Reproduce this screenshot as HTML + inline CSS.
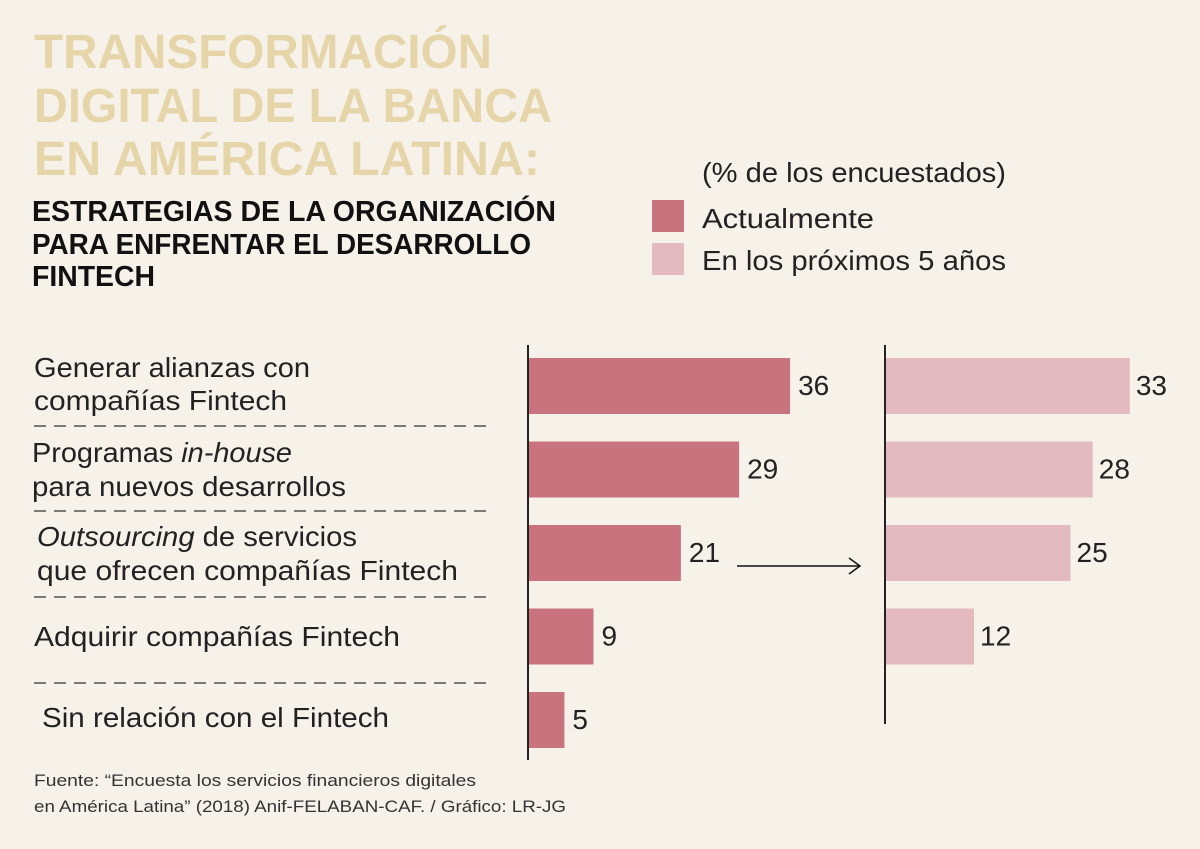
<!DOCTYPE html>
<html><head><meta charset="utf-8"><style>
html,body{margin:0;padding:0;background:#f6f2ea;}
svg{display:block;font-family:"Liberation Sans",sans-serif;}
</style></head><body>
<svg id="chart" width="1200" height="849" viewBox="0 0 1200 849">
<rect width="1200" height="849" fill="#f6f2ea"/>
<g fill="#e6d5a9" font-weight="bold" font-size="48">
<text x="34" y="68" textLength="458" lengthAdjust="spacingAndGlyphs">TRANSFORMACIÓN</text>
<text x="34" y="122" textLength="518" lengthAdjust="spacingAndGlyphs">DIGITAL DE LA BANCA</text>
<text x="34" y="175" textLength="506" lengthAdjust="spacingAndGlyphs">EN AMÉRICA LATINA:</text>
</g>
<g fill="#111" font-weight="bold" font-size="29">
<text x="32" y="221" textLength="524" lengthAdjust="spacingAndGlyphs">ESTRATEGIAS DE LA ORGANIZACIÓN</text>
<text x="32" y="254" textLength="499" lengthAdjust="spacingAndGlyphs">PARA ENFRENTAR EL DESARROLLO</text>
<text x="32" y="286" textLength="123" lengthAdjust="spacingAndGlyphs">FINTECH</text>
</g>
<g font-size="28" fill="#222">
<text x="702" y="182" textLength="304" lengthAdjust="spacingAndGlyphs">(% de los encuestados)</text>
<rect x="652" y="200" width="32" height="32" fill="#c8737d"/>
<text x="702" y="228" textLength="172" lengthAdjust="spacingAndGlyphs">Actualmente</text>
<rect x="652" y="243" width="32" height="32" fill="#e3bac0"/>
<text x="702" y="270" textLength="304" lengthAdjust="spacingAndGlyphs">En los próximos 5 años</text>
</g>
<g font-size="28" fill="#222">
<text x="34" y="377" textLength="276" lengthAdjust="spacingAndGlyphs">Generar alianzas con</text>
<text x="34" y="410" textLength="253" lengthAdjust="spacingAndGlyphs">compañías Fintech</text>
<text x="32" y="462" textLength="260" lengthAdjust="spacingAndGlyphs">Programas <tspan font-style="italic">in-house</tspan></text>
<text x="32" y="496" textLength="314" lengthAdjust="spacingAndGlyphs">para nuevos desarrollos</text>
<text x="37" y="546" textLength="320" lengthAdjust="spacingAndGlyphs"><tspan font-style="italic">Outsourcing</tspan> de servicios</text>
<text x="37" y="580" textLength="421" lengthAdjust="spacingAndGlyphs">que ofrecen compañías Fintech</text>
<text x="34" y="646" textLength="366" lengthAdjust="spacingAndGlyphs">Adquirir compañías Fintech</text>
<text x="42" y="727" textLength="347" lengthAdjust="spacingAndGlyphs">Sin relación con el Fintech</text>
</g>
<g stroke="#333" stroke-width="1.3" stroke-dasharray="12,8">
<line x1="34" x2="494" y1="426" y2="426"/><line x1="34" x2="494" y1="511" y2="511"/>
<line x1="34" x2="494" y1="597" y2="597"/><line x1="34" x2="494" y1="683" y2="683"/>
</g>
<g id="bars"></g>
<line x1="528" x2="528" y1="345" y2="760" stroke="#222" stroke-width="2"/>
<line x1="885" x2="885" y1="345" y2="724" stroke="#222" stroke-width="2"/>
<g>
<line x1="737" x2="859" y1="566" y2="566" stroke="#111" stroke-width="1.5"/>
<path d="M849 558 L860 566 L849 574" fill="none" stroke="#111" stroke-width="1.5"/>
</g>
<g font-size="17" fill="#333">
<text x="34" y="786" textLength="442" lengthAdjust="spacingAndGlyphs">Fuente: “Encuesta los servicios financieros digitales</text>
<text x="34" y="812" textLength="532" lengthAdjust="spacingAndGlyphs">en América Latina” (2018) Anif-FELABAN-CAF. / Gráfico: LR-JG</text>
</g>
</svg>
<script>
const categories = ["Generar alianzas","Programas in-house","Outsourcing","Adquirir","Sin relación"];
const actualValues = [36, 29, 21, 9, 5];
const futureValues = [33, 28, 25, 12];
const NS = "http://www.w3.org/2000/svg";
const xA = v => 528 + v * 7.28;
const xF = v => 885 + v * 7.42;
const yRow = i => 358 + i * 83.5;
const g = document.getElementById("bars");
function mk(tag, attrs){const e=document.createElementNS(NS,tag);for(const k in attrs)e.setAttribute(k,attrs[k]);g.appendChild(e);return e;}
actualValues.forEach((v,i)=>{
  const r = mk("rect",{x:528,y:yRow(i),width:xA(v)-528,height:56,fill:"#c8737d"});
  
  
  const t = mk("text",{x:xA(v)+8,y:yRow(i)+37,"font-size":28,fill:"#222"});
  t.textContent = v;
  
  
});
futureValues.forEach((v,i)=>{
  const r = mk("rect",{x:885,y:yRow(i),width:xF(v)-885,height:56,fill:"#e3bac0"});
  
  
  const t = mk("text",{x:xF(v)+6,y:yRow(i)+37,"font-size":28,fill:"#222"});
  t.textContent = v;
  
  
});
</script>
</body></html>
